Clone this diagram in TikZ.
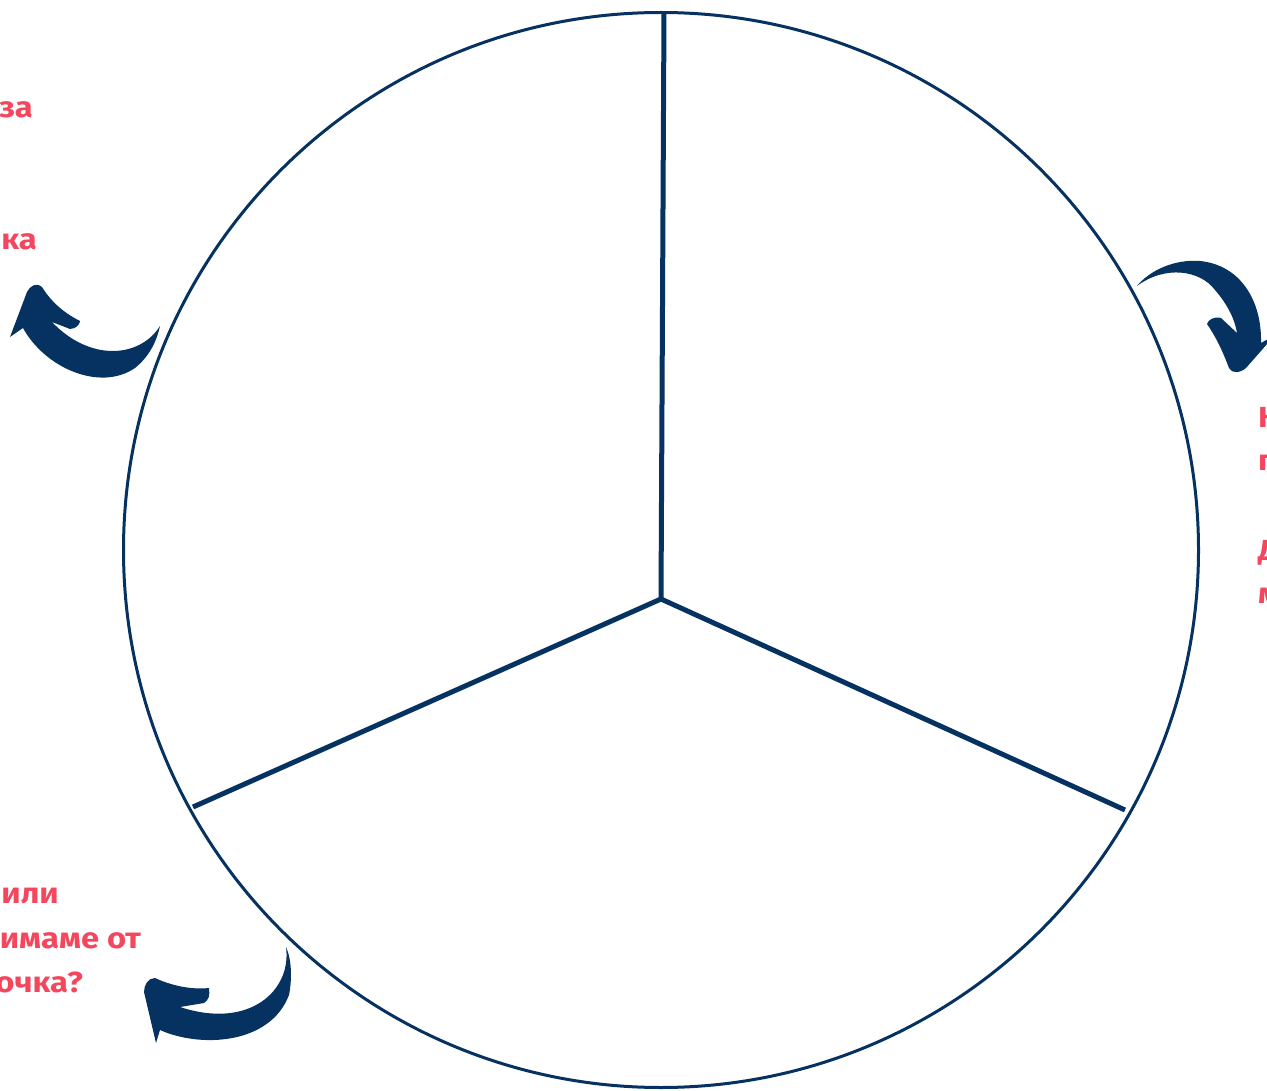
\documentclass[tikz,border=0pt]{standalone}
\usepackage{fontspec}
\setmainfont{Fira Sans}[Script=Cyrillic, Language=Bulgarian]
\definecolor{navy}{HTML}{063261}
\definecolor{rosered}{HTML}{F4475E}
\newcommand\widetxt[1]{\scalebox{1.13}[1]{#1}}
\tikzset{
  lbl/.style={text=rosered, font=\fontsize{29}{34}\selectfont\bfseries, inner sep=0pt},
  spoke/.style={draw=navy, line width=5pt},
  brush/.style={fill=navy, draw=none}
}
\begin{document}
\begin{tikzpicture}[x=1pt,y=-1pt]
\useasboundingbox (0,0) rectangle (1267,1091);
\clip (0,0) rectangle (1267,1091);
\fill[white] (0,0) rectangle (1267,1091);
% circle
\node (ring) [circle, draw=navy, line width=3pt, minimum size=1075pt, inner sep=0pt] at (661,550) {};
% spokes
\coordinate (o) at (661,599);
\coordinate (top) at (664,12);
\coordinate (rt) at (1125,810);
\coordinate (lt) at (193,807);
\draw[spoke] (o) -- (top);
\draw[spoke] (o) -- (rt);
\draw[spoke] (o) -- (lt);
% top-left arrow
\fill[brush] (160,326) .. controls (140,358) and (90,362) .. (52,322)
  -- (70,329) .. controls (76,329) and (80,324) .. (80,321)
  .. controls (62,312) and (50,300) .. (42,287)
  .. controls (36,282) and (30,286) .. (27,292)
  -- (10,337) -- (23,328)
  .. controls (45,368) and (100,392) .. (135,368)
  .. controls (150,356) and (157,340) .. (160,326) -- cycle;
% top-right arrow
\fill[brush] (1137,286) .. controls (1165,265) and (1200,270) .. (1215,290)
  .. controls (1228,305) and (1235,320) .. (1237,333)
  -- (1221,318) .. controls (1214,316) and (1208,320) .. (1207,324)
  .. controls (1218,340) and (1224,355) .. (1229,368)
  .. controls (1232,374) and (1240,373) .. (1246,368)
  -- (1275,335) -- (1261,343)
  .. controls (1262,300) and (1240,265) .. (1200,261)
  .. controls (1175,259) and (1150,270) .. (1137,286) -- cycle;
% bottom-left arrow
\fill[brush] (286,947) .. controls (292,990) and (250,1030) .. (180,1007)
  -- (204,1003) .. controls (209,1000) and (210,995) .. (209,988)
  .. controls (190,990) and (170,985) .. (155,978)
  .. controls (148,978) and (144,985) .. (144,992)
  -- (156,1043) -- (160,1030)
  .. controls (200,1048) and (270,1045) .. (289,995)
  .. controls (292,980) and (292,960) .. (286,947) -- cycle;
% labels
\node (l1) [lbl, anchor=base east] at (33,118) {\widetxt{за}};
\node (l2) [lbl, anchor=base east] at (37,250) {\widetxt{ка}};
\node (r1) [lbl, anchor=base west] at (1258,427) {\widetxt{К}};
\node (r2) [lbl, anchor=base west] at (1258,470) {\widetxt{п}};
\node (r3) [lbl, anchor=base west] at (1258,560) {\widetxt{Д}};
\node (r4) [lbl, anchor=base west] at (1258,603) {\widetxt{м}};
\node (b1) [lbl, anchor=base east] at (59,903) {\widetxt{или}};
\node (b2) [lbl, anchor=base east] at (141,948) {\widetxt{имаме от}};
\node (b3) [lbl, anchor=base east] at (83,992) {\widetxt{очка?}};
\end{tikzpicture}
\end{document}
